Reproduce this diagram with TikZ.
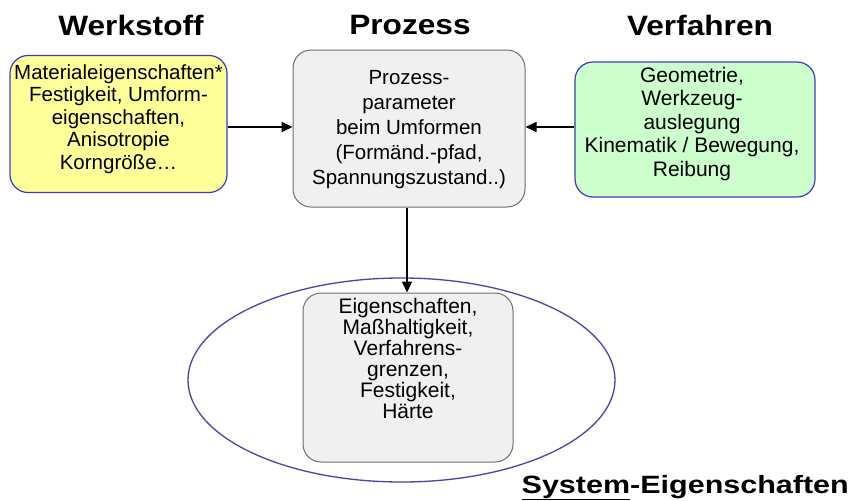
\documentclass[tikz,border=0pt]{standalone}
\usepackage{fontspec}
\setmainfont{Liberation Sans}
\newfontfamily\stretchfont[FakeStretch=1.13]{Liberation Sans}
\newfontfamily\stretchfontb[FakeStretch=1.22]{Liberation Sans}
\usetikzlibrary{arrows.meta,shapes.geometric}
\definecolor{boxblue}{RGB}{60,60,190}
\definecolor{ellblue}{RGB}{70,70,170}
\definecolor{yel}{RGB}{255,255,153}
\definecolor{grn}{RGB}{204,255,204}
\definecolor{lgray}{RGB}{240,240,240}
\definecolor{bgray}{RGB}{110,110,110}
\tikzset{
  x=1pt,y=-1pt,
  rbox/.style={draw, rounded corners=18pt, line width=1.2pt, inner sep=0pt},
  txt/.style={align=center, inner sep=0pt},
  title/.style={font=\stretchfont\fontsize{28}{32}\selectfont\bfseries},
  conn/.style={line width=1.6pt, -{Triangle[length=11pt,width=10pt]}}
}
\begin{document}
\begin{tikzpicture}
\useasboundingbox[fill=white] (0,0) rectangle (852,501);
\node[title] (t1) at (131,25) {Werkstoff};
\node[title] (t2) at (410,25) {Prozess};
\node[title] (t3) at (700,25) {Verfahren};

\node[rbox, draw=boxblue, fill=yel, minimum width=217pt, minimum height=137pt] (w) at (118.5,124) {};
\node[txt, font=\fontsize{20.5}{22.5}\selectfont] (wt) at (118.5,119)
 {Materialeigenschaften*\\Festigkeit, Umform-\\eigenschaften,\\Anisotropie\\Korngröße\dots};

\node[rbox, draw=bgray, fill=lgray, line width=1pt, minimum width=232pt, minimum height=157pt] (p) at (409,128.5) {};
\node[txt, font=\fontsize{20.5}{25}\selectfont] (pt) at (409,130)
 {Prozess-\\parameter\\beim Umformen\\(Formänd.-pfad,\\Spannungszustand..)};

\node[rbox, draw=boxblue, fill=grn, minimum width=240pt, minimum height=135pt] (v) at (695,129.5) {};
\node[txt, font=\fontsize{21}{23.5}\selectfont] (vt) at (692,124)
 {Geometrie,\\Werkzeug-\\auslegung\\Kinematik / Bewegung,\\Reibung};

\node[draw=ellblue, line width=1.3pt, ellipse, minimum width=427pt, minimum height=204pt, inner sep=0pt] (e) at (401.5,380) {};
\node[rbox, draw=bgray, fill=lgray, line width=1pt, minimum width=210pt, minimum height=169pt] (s) at (408,377.5) {};
\node[txt, font=\fontsize{21}{21}\selectfont] (stx) at (408,358)
 {Eigenschaften,\\Maßhaltigkeit,\\Verfahrens-\\grenzen,\\Festigkeit,\\Härte};

\node[font=\stretchfontb\fontsize{25}{28}\selectfont\bfseries, anchor=base east, inner sep=0pt] (st) at (849,493) {\underline{System}-Eigenschaften};

\draw[conn] (w.east |- 0,127) coordinate (a1) -- (p.west |- a1);
\draw[conn] (v.west |- 0,127) coordinate (a2) -- (p.east |- a2);
\draw[conn] (p.south -| 407,0) coordinate (a3) -- (s.north -| a3);
\end{tikzpicture}
\end{document}
